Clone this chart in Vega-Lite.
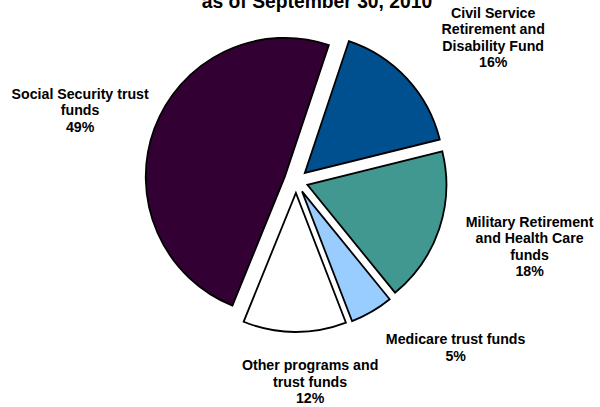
{
  "$schema": "https://vega.github.io/schema/vega-lite/v6.json",
  "width": 600,
  "height": 407,
  "padding": 0,
  "autosize": {"type": "none"},
  "background": "white",
  "config": {"view": {"stroke": null}},
  "title": {
    "text": "as of September 30, 2010",
    "font": "Liberation Sans",
    "fontSize": 19.3,
    "fontWeight": "bold",
    "color": "black",
    "anchor": "middle",
    "frame": "group",
    "baseline": "alphabetic",
    "offset": -11.4,
    "dy": 15.5,
    "dx": 17
  },
  "data": {
    "values": [
      {"fund": "Civil Service\nRetirement and\nDisability Fund", "share": 16},
      {"fund": "Military Retirement\nand Health Care\nfunds", "share": 18},
      {"fund": "Medicare trust funds", "share": 5},
      {"fund": "Other programs and\ntrust funds", "share": 12},
      {"fund": "Social Security trust\nfunds", "share": 49}
    ]
  },
  "transform": [
    {"stack": "share", "groupby": [], "as": ["s0", "s1"]},
    {"calculate": "0.3229 + datum.s0 / 100 * 2 * PI", "as": "a0"},
    {"calculate": "0.3229 + datum.s1 / 100 * 2 * PI", "as": "a1"},
    {"calculate": "(datum.a0 + datum.a1) / 2", "as": "mid"},
    {"calculate": "12 * sin(datum.mid)", "as": "ex"},
    {"calculate": "12 * cos(datum.mid)", "as": "ey"},
    {"calculate": "datum.fund + '\\n' + datum.share + '%'", "as": "label"},
    {"calculate": "split(datum.label, '\\n').length", "as": "nlines"},
    {"calculate": "8 + 234 * (sin(datum.mid) >= 0 ? 1 : -1) * pow(abs(sin(datum.mid)), 0.69) + 15 * pow(max(0, -cos(datum.mid)), 6)", "as": "lx"},
    {"calculate": "cos(datum.mid) * (177 + datum.nlines * 16.5 / 2) + (datum.nlines - 1) / 2 * 16.5", "as": "ly"}
  ],
  "layer": [
    {
      "mark": {"type": "arc", "outerRadius": 139, "stroke": "black", "strokeWidth": 1.8},
      "encoding": {
        "theta": {"field": "a0", "type": "quantitative", "scale": null},
        "theta2": {"field": "a1"},
        "x": {"field": "ex", "type": "quantitative", "scale": {"domain": [-296, 304], "nice": false, "zero": false}, "axis": null},
        "y": {"field": "ey", "type": "quantitative", "scale": {"domain": [-226, 181], "nice": false, "zero": false}, "axis": null},
        "color": {
          "field": "fund",
          "type": "nominal",
          "scale": {
            "domain": [
              "Civil Service\nRetirement and\nDisability Fund",
              "Military Retirement\nand Health Care\nfunds",
              "Medicare trust funds",
              "Other programs and\ntrust funds",
              "Social Security trust\nfunds"
            ],
            "range": ["#004F8F", "#409890", "#99CCFF", "#FFFFFF", "#330033"]
          },
          "legend": null
        }
      }
    },
    {
      "mark": {
        "type": "text",
        "font": "Liberation Sans",
        "fontSize": 14.2,
        "fontWeight": "bold",
        "lineBreak": "\n",
        "lineHeight": 16.5,
        "align": "center",
        "baseline": "middle",
        "color": "black"
      },
      "encoding": {
        "x": {"field": "lx", "type": "quantitative", "scale": {"domain": [-296, 304], "nice": false, "zero": false}, "axis": null},
        "y": {"field": "ly", "type": "quantitative", "scale": {"domain": [-226, 181], "nice": false, "zero": false}, "axis": null},
        "text": {"field": "label", "type": "nominal"}
      }
    }
  ]
}
